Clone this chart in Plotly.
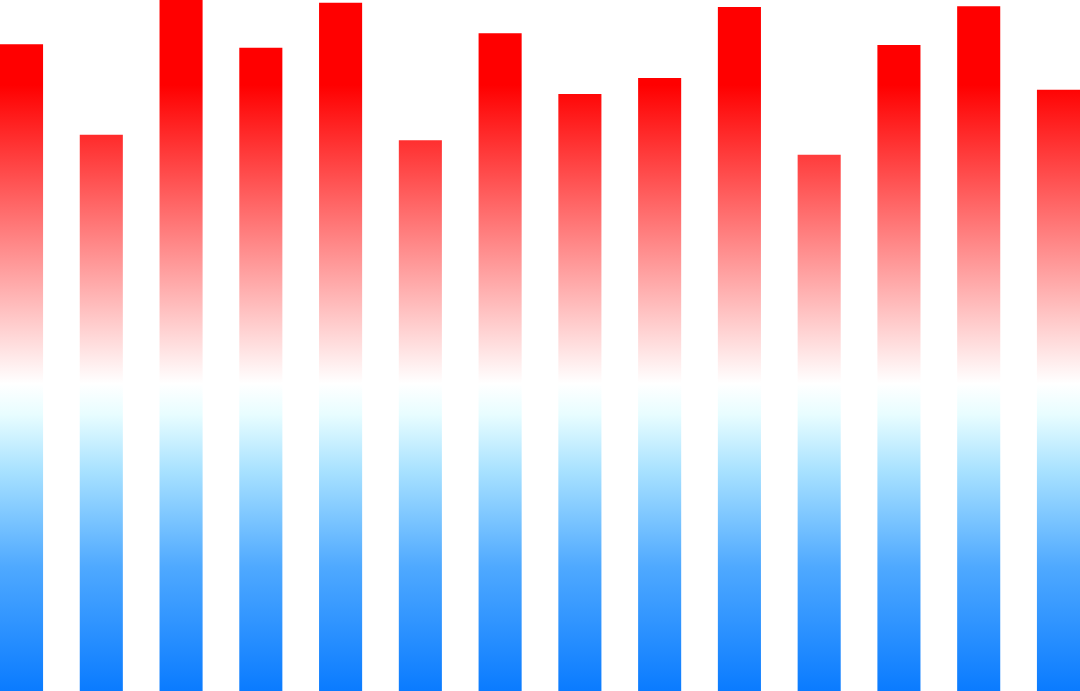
"""Столбцы с вертикальным градиентом (синий → белый → красный) по всей высоте."""
import plotly.graph_objects as go

# ── данные ────────────────────────────────────────────────────────────────
categories = list(range(14))
values = [93.6, 80.5, 100.0, 93.1, 99.6, 79.7, 95.2,
          86.4, 88.7, 99.0, 77.6, 93.5, 99.1, 87.0]

BAR_HALF = 0.27
Y_MAX = 100.0

# градиент привязан к оси y, а не к отдельному столбцу
gradient = [
    [0.00, '#0a7bff'],
    [0.18, '#4fa9ff'],
    [0.32, '#a9e2ff'],
    [0.40, '#e8fdff'],
    [0.445, '#ffffff'],
    [0.877, '#ff0000'],
    [1.00, '#ff0000'],
]

# прямоугольники столбцов через None-разрывы (координаты из данных)
xs, ys = [], []
for c, v in zip(categories, values):
    xs += [c - BAR_HALF, c + BAR_HALF, c + BAR_HALF, c - BAR_HALF, c - BAR_HALF, None]
    ys += [0, 0, v, v, 0, None]

fig = go.Figure(go.Scatter(
    x=xs, y=ys,
    mode='none',
    fill='toself',
    fillgradient=dict(type='vertical', colorscale=gradient, start=0, stop=Y_MAX),
    hoverinfo='skip',
    showlegend=False,
))

fig.update_layout(
    width=1080, height=691,
    margin={'l': 0, 'r': 0, 't': 0, 'b': 0},
    paper_bgcolor='white', plot_bgcolor='white',
    xaxis=dict(visible=False, range=[-BAR_HALF, len(categories) - 1 + BAR_HALF]),
    yaxis=dict(visible=False, range=[0, Y_MAX]),
)

# убрать стандартный отступ body, чтобы график лёг ровно в окно
fig.write_html(
    "out.html",
    config={'displayModeBar': False},
    post_script="document.body.style.margin='0';document.body.style.overflow='hidden';",
)
